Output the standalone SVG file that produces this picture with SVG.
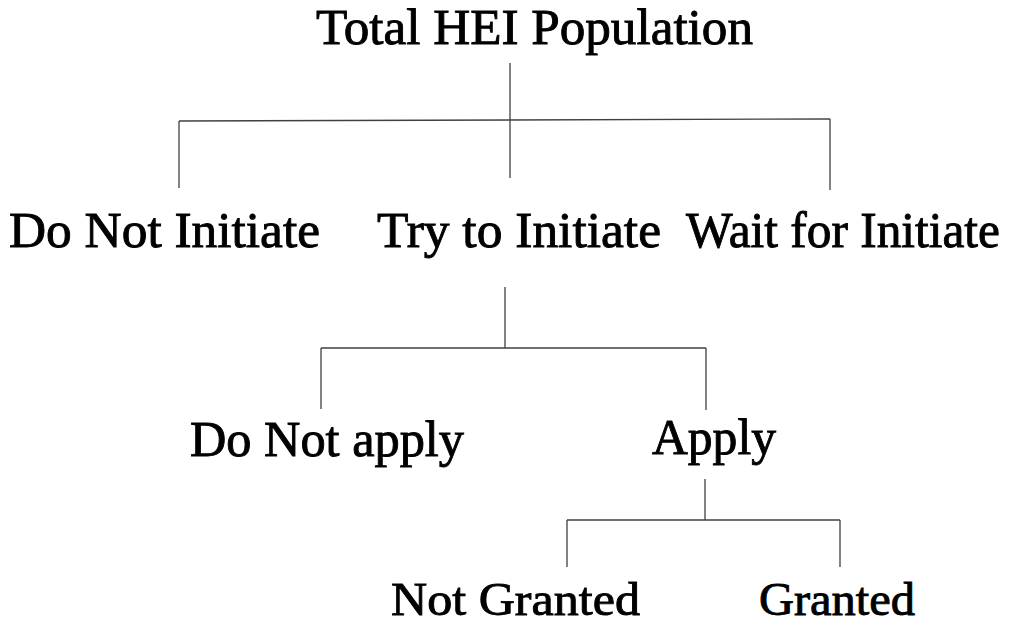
<svg xmlns="http://www.w3.org/2000/svg" width="1017" height="626" viewBox="0 0 1017 626">
<style>
text { font-family: "Liberation Serif", "Times New Roman", serif; font-size: 50px; fill: #000; stroke: #000; stroke-width: 0.9; }
text.b { font-size: 46px; }
.c line { stroke: #404040; stroke-width: 1.3; fill: none; }
</style>
<rect width="1017" height="626" fill="#fff"/>
<g class="c" id="connectors">
<line x1="510" y1="63" x2="510" y2="178"/>
<line x1="179" y1="121" x2="830" y2="119"/>
<line x1="179" y1="121" x2="179" y2="188"/>
<line x1="830" y1="119" x2="830" y2="190"/>
<line x1="505" y1="287" x2="505" y2="348"/>
<line x1="321" y1="348" x2="706" y2="348"/>
<line x1="321" y1="348" x2="321" y2="409"/>
<line x1="706" y1="348" x2="706" y2="410"/>
<line x1="705" y1="479" x2="705" y2="520"/>
<line x1="567" y1="520" x2="840" y2="520"/>
<line x1="567" y1="520" x2="567" y2="567"/>
<line x1="840" y1="520" x2="840" y2="567"/>
</g>
<g id="total"><text x="316" y="44" textLength="437" lengthAdjust="spacingAndGlyphs">Total HEI Population</text></g>
<g id="do-not-initiate"><text x="9" y="247" textLength="311" lengthAdjust="spacingAndGlyphs">Do Not Initiate</text></g>
<g id="try-to-initiate"><text x="377" y="247" textLength="284" lengthAdjust="spacingAndGlyphs">Try to Initiate</text></g>
<g id="wait-for-initiate"><text x="686" y="247" textLength="314" lengthAdjust="spacingAndGlyphs">Wait for Initiate</text></g>
<g id="do-not-apply"><text x="190" y="456" textLength="274" lengthAdjust="spacingAndGlyphs">Do Not apply</text></g>
<g id="apply"><text x="652" y="454" textLength="124" lengthAdjust="spacingAndGlyphs">Apply</text></g>
<g id="not-granted"><text class="b" x="391" y="615" textLength="249" lengthAdjust="spacingAndGlyphs">Not Granted</text></g>
<g id="granted"><text class="b" x="759" y="615" textLength="156" lengthAdjust="spacingAndGlyphs">Granted</text></g>
</svg>
